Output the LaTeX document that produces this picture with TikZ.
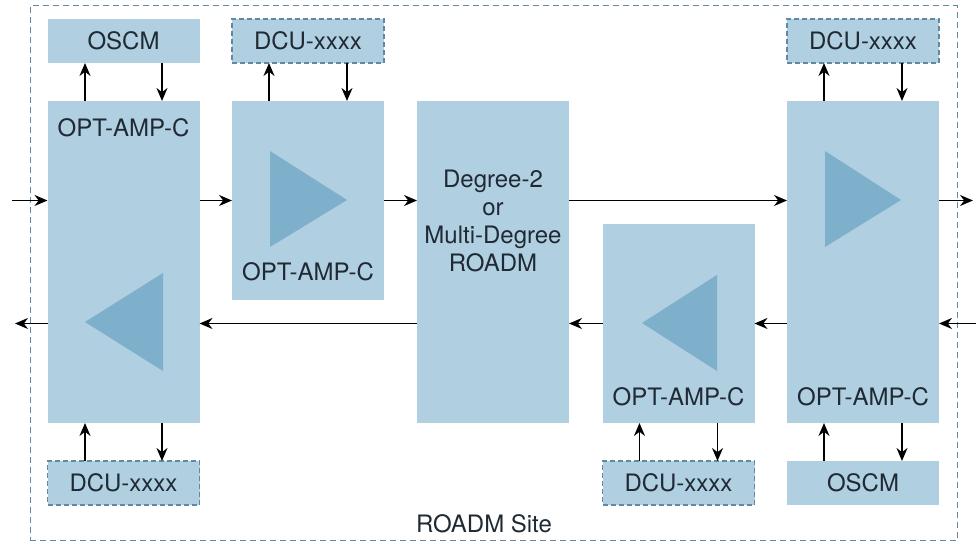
\documentclass[tikz,border=0pt]{standalone}
\usepackage{fontspec}
\setmainfont{TeX Gyre Heros}
\usepackage{tikz}
\usetikzlibrary{arrows.meta, positioning}

\definecolor{cardblue}{HTML}{B0CFE1}
\definecolor{gainblue}{HTML}{7EAFCB}
\definecolor{rimblue}{HTML}{6289A2}
\definecolor{inkgray}{HTML}{1F2A35}

\begin{document}
\begin{tikzpicture}[x=0.5pt, y=-0.5pt, >={Stealth[length=6.5pt, width=5.5pt]},
    node distance=19pt, font=\fontsize{12}{14}\selectfont, text=inkgray]
    \tikzstyle{card} = [fill=cardblue, minimum width=76pt, inner sep=0pt,
	outer sep=0pt]
    \tikzstyle{amp} = [card, minimum height=99.5pt]
    \tikzstyle{tallamp} = [card, minimum height=161pt]
    \tikzstyle{oscm} = [card, minimum height=22pt]
    \tikzstyle{dcu} = [oscm, draw=rimblue, dash pattern=on 2.5pt off 1.5pt,
	line width=0.6pt]
    \tikzstyle{gain} = [fill=gainblue]
    \tikzstyle{fibre} = [->, line width=0.75pt]

    \useasboundingbox (0,0) rectangle (976,544);

    % site frame
    \node[draw=rimblue, dash pattern=on 3pt off 2pt, line width=0.5pt,
	minimum width=463.5pt, minimum height=267.5pt, inner sep=0pt]
	(site) at (493.5,273.5) {};
    \node (sitelbl) at (484,524) {ROADM Site};

	\begin{scope}
		\path[fibre]
			node[tallamp] (ampA) at (123.5,262) {}
			node[amp] (ampB) at (308,200.5) {}
			node[tallamp] (roadm) at (493,262) {}
			node[amp] (ampC) at (678.5,323.5) {}
			node[tallamp] (ampD) at (863,262) {}

			node[oscm, above=of ampA] (oscmA) {OSCM}
			node[dcu, below=of ampA] (dcuA) {DCU-xxxx}
			node[dcu, above=of ampB] (dcuB) {DCU-xxxx}
			node[dcu, below=of ampC] (dcuC) {DCU-xxxx}
			node[dcu, above=of ampD] (dcuD) {DCU-xxxx}
			node[oscm, below=of ampD] (oscmD) {OSCM}
		;

		% amplifier symbols
		\fill[gain] (163,273) -- (85,322) -- (163,371) -- cycle;
		\fill[gain] (270,151) -- (347,200) -- (270,247) -- cycle;
		\fill[gain] (717,275) -- (642,323) -- (717,371) -- cycle;
		\fill[gain] (825,151) -- (901,200) -- (825,247) -- cycle;

		\node (lblA) at (123.5,128) {OPT-AMP-C};
		\node (lblB) at (308,272) {OPT-AMP-C};
		\node (lblC) at (678.5,397) {OPT-AMP-C};
		\node (lblD) at (863,397) {OPT-AMP-C};
		\node[align=center] (lblR) at (493,221)
			{Degree-2\\or\\Multi-Degree\\ROADM};

		\coordinate (westin) at (12,200.5);
		\coordinate (westout) at (15,323.5);
		\coordinate (eastout) at (973,200.5);
		\coordinate (eastin) at (976,323.5);

		\path[fibre]
			% east-bound
			(westin) edge (westin -| ampA.west)
			(ampA.east |- westin) edge (ampB.west)
			(ampB.east) edge (roadm.west |- ampB.east)
			(roadm.east |- ampB.east) edge (ampD.west |- ampB.east)
			(ampD.east |- ampB.east) edge (eastout)

			% west-bound
			(eastin) edge (ampD.east |- eastin)
			(ampD.west |- eastin) edge (ampC.east)
			(ampC.west) edge (roadm.east |- ampC.west)
			(roadm.west |- ampC.west) edge (ampA.east |- ampC.west)
			(ampA.west |- ampC.west) edge (westout)

			% side cards
			([xshift=-19.25pt]ampA.north) edge ([xshift=-19.25pt]oscmA.south)
			([xshift=19.25pt]oscmA.south) edge ([xshift=19.25pt]ampA.north)
			([xshift=-19.25pt]dcuA.north) edge ([xshift=-19.25pt]ampA.south)
			([xshift=19.25pt]ampA.south) edge ([xshift=19.25pt]dcuA.north)

			([xshift=-19.5pt]ampB.north) edge ([xshift=-19.5pt]dcuB.south)
			([xshift=19.5pt]dcuB.south) edge ([xshift=19.5pt]ampB.north)

			([xshift=-19.5pt]dcuC.north) edge ([xshift=-19.5pt]ampC.south)
			([xshift=19.5pt]ampC.south) edge ([xshift=19.5pt]dcuC.north)

			([xshift=-19.5pt]ampD.north) edge ([xshift=-19.5pt]dcuD.south)
			([xshift=19.5pt]dcuD.south) edge ([xshift=19.5pt]ampD.north)
			([xshift=-19.5pt]oscmD.north) edge ([xshift=-19.5pt]ampD.south)
			([xshift=19.5pt]ampD.south) edge ([xshift=19.5pt]oscmD.north)
		;
	\end{scope}
\end{tikzpicture}
\end{document}
